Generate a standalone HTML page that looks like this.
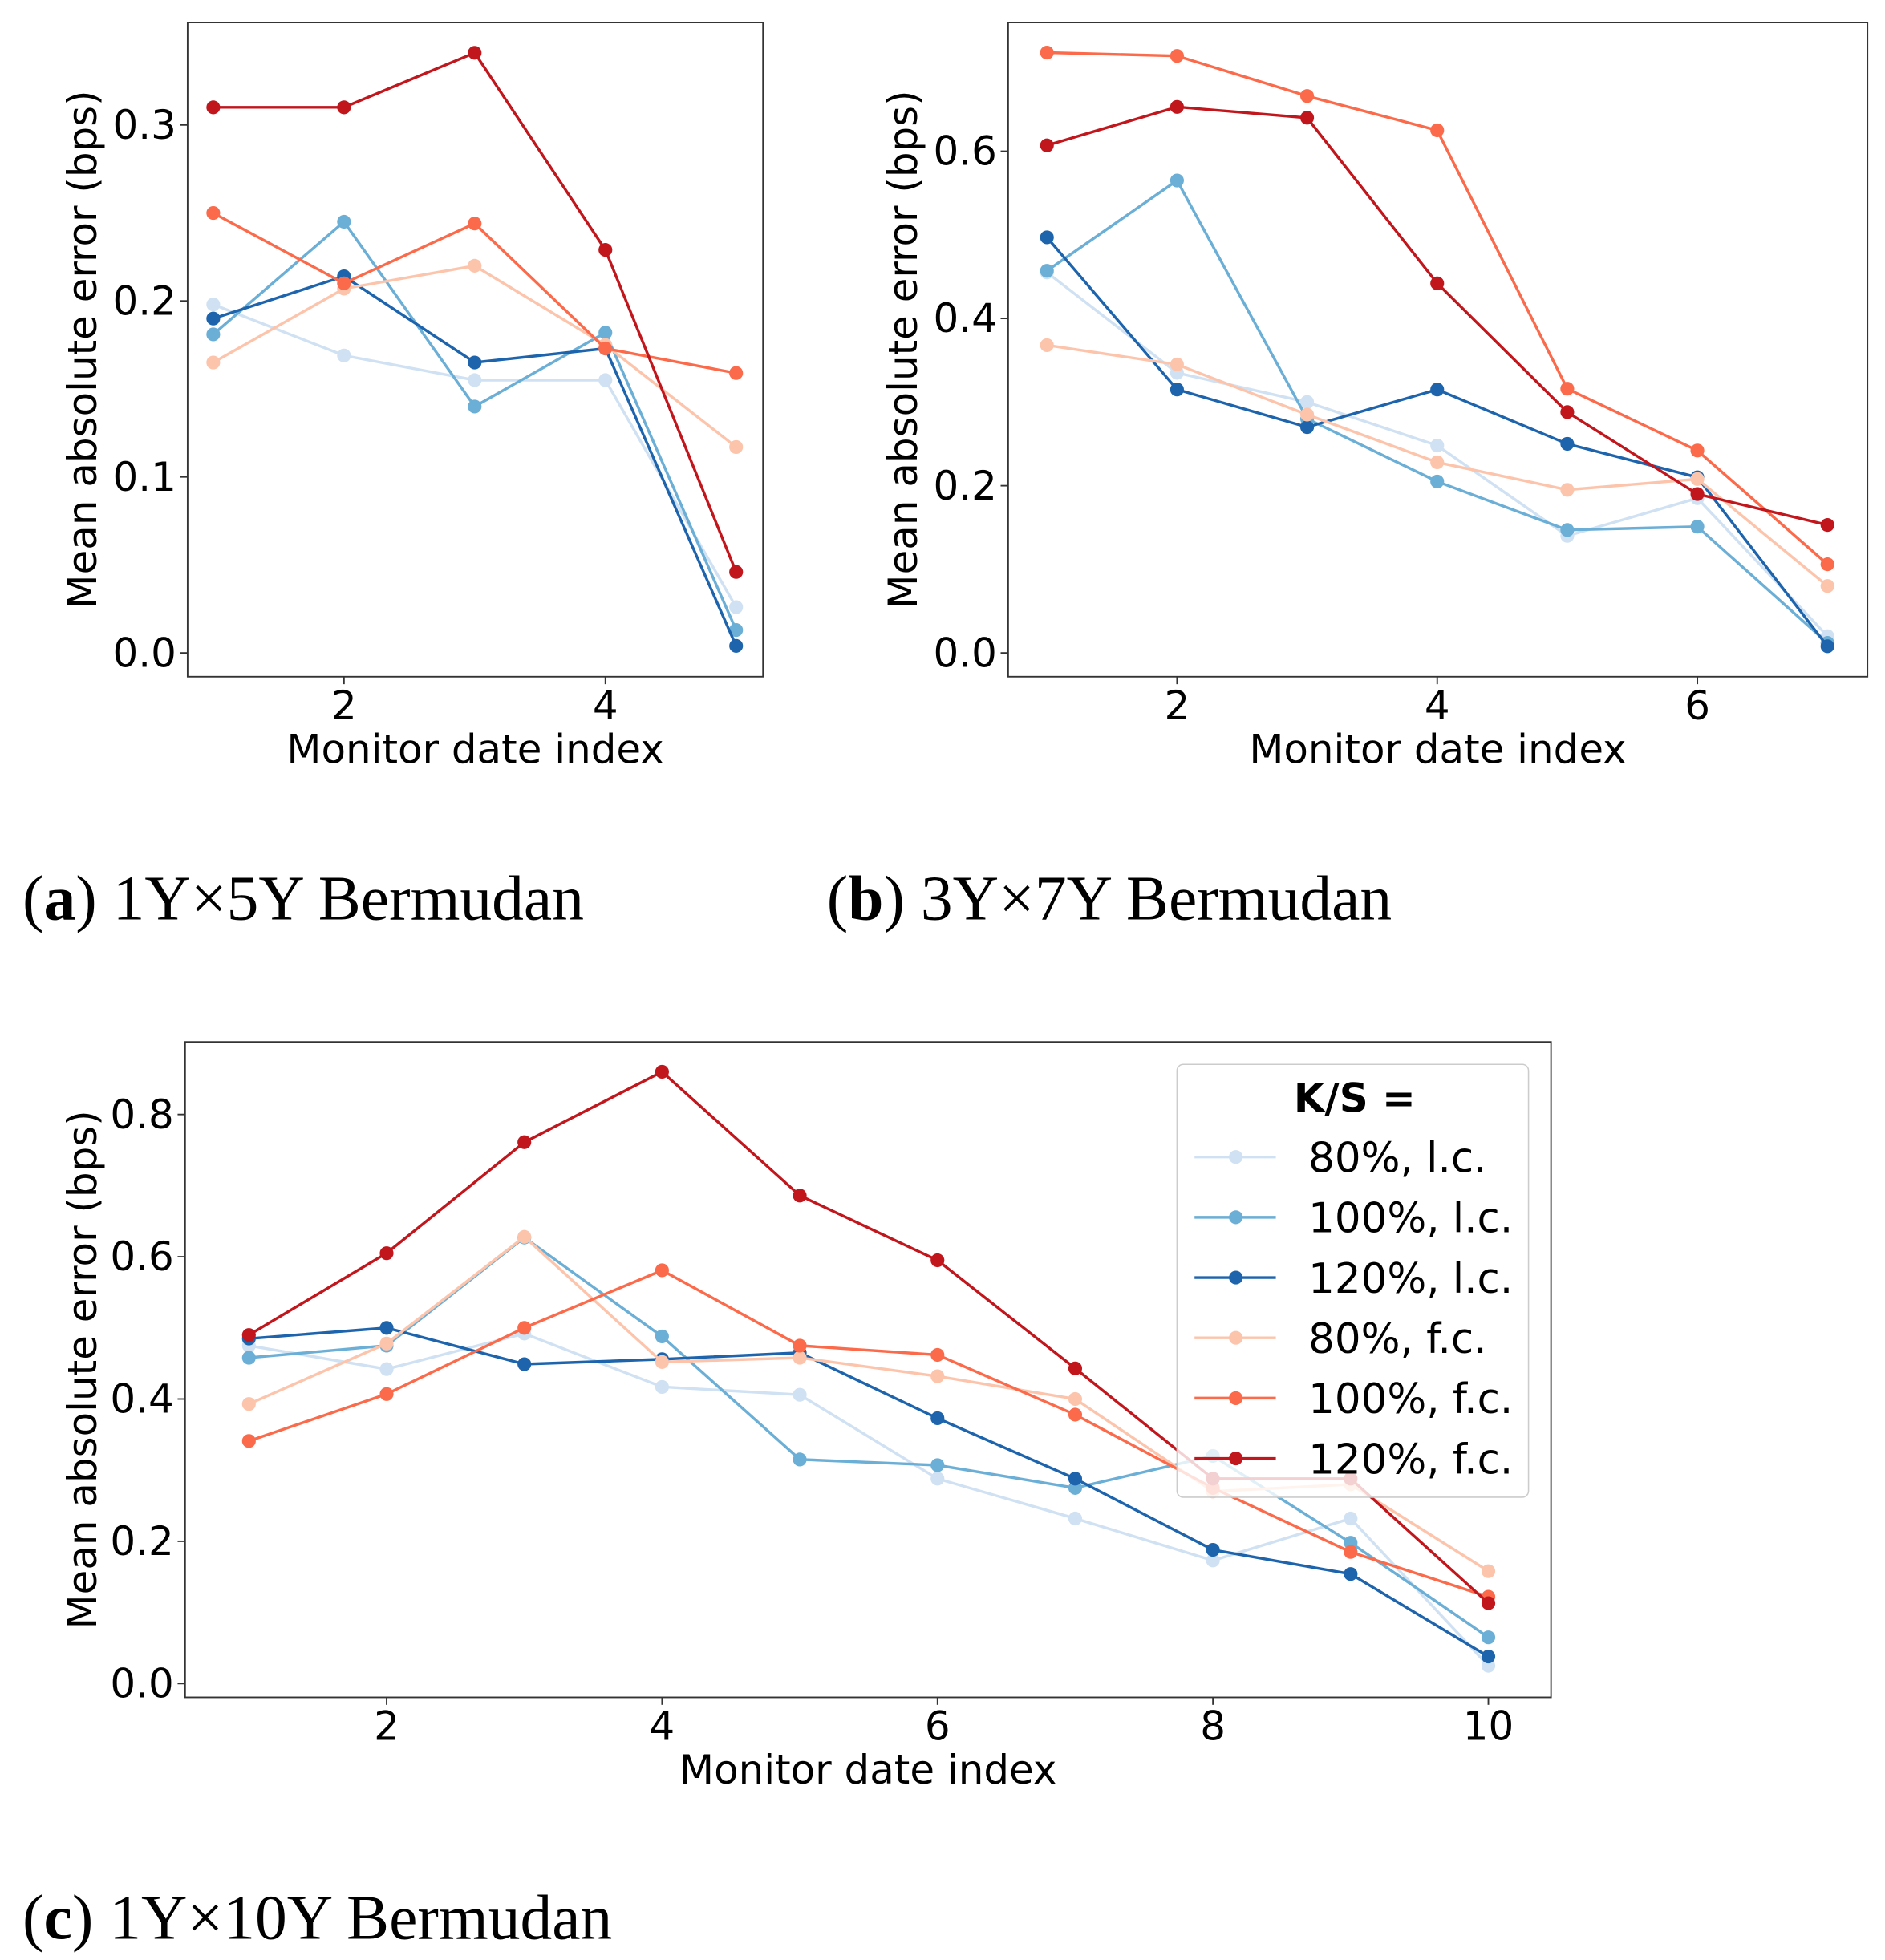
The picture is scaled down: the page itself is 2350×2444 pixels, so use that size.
<!DOCTYPE html>
<html><head><meta charset="utf-8"><style>
html,body{margin:0;padding:0;background:#fff;}
svg{display:block;}
text{font-family:"DejaVu Sans","Liberation Sans",sans-serif;fill:#000;}
.cap{font-family:"Liberation Serif",serif;font-size:51px;}
</style></head><body>
<svg id="fig" width="2350" height="2444" viewBox="0 0 1507 1567" preserveAspectRatio="none" xmlns="http://www.w3.org/2000/svg"></svg>
<script>
const seriesNames = ["80%, l.c.","100%, l.c.","120%, l.c.","80%, f.c.","100%, f.c.","120%, f.c."];
const seriesKeys = ["80-lc","100-lc","120-lc","80-fc","100-fc","120-fc"];
const colors = ["#cfe1f2","#6baed6","#1d64ad","#fdc4ac","#fb6a4a","#c1161c"];

const xA = [1,2,3,4,5];
const valsA = [
  [0.198,0.169,0.155,0.155,0.026],
  [0.181,0.245,0.140,0.182,0.013],
  [0.190,0.214,0.165,0.173,0.004],
  [0.165,0.207,0.220,0.175,0.117],
  [0.250,0.210,0.244,0.173,0.159],
  [0.310,0.310,0.341,0.229,0.046]
];
const xTicksA = [2,4];
const yTicksA = [0.0,0.1,0.2,0.3];
const yLabelsA = ["0.0","0.1","0.2","0.3"];

const xB = [1,2,3,4,5,6,7];
const valsB = [
  [0.455,0.335,0.300,0.248,0.140,0.185,0.020],
  [0.457,0.565,0.280,0.205,0.147,0.151,0.012],
  [0.497,0.315,0.270,0.315,0.250,0.210,0.008],
  [0.368,0.345,0.285,0.228,0.195,0.208,0.080],
  [0.718,0.714,0.666,0.625,0.316,0.242,0.106],
  [0.607,0.653,0.640,0.442,0.288,0.190,0.153]
];
const xTicksB = [2,4,6];
const yTicksB = [0.0,0.2,0.4,0.6];
const yLabelsB = ["0.0","0.2","0.4","0.6"];

const xC = [1,2,3,4,5,6,7,8,9,10];
const valsC = [
  [0.475,0.442,0.492,0.417,0.406,0.288,0.232,0.173,0.232,0.025],
  [0.458,0.475,0.627,0.488,0.315,0.307,0.275,0.320,0.198,0.065],
  [0.485,0.500,0.449,0.456,0.465,0.373,0.288,0.188,0.154,0.038],
  [0.393,0.478,0.628,0.452,0.458,0.432,0.400,0.270,0.280,0.158],
  [0.341,0.407,0.500,0.581,0.475,0.462,0.378,0.275,0.185,0.122],
  [0.490,0.605,0.761,0.860,0.686,0.595,0.443,0.288,0.288,0.113]
];
const xTicksC = [2,4,6,8,10];
const yTicksC = [0.0,0.2,0.4,0.6,0.8];
const yLabelsC = ["0.0","0.2","0.4","0.6","0.8"];

const NS = "http://www.w3.org/2000/svg";
const svg = document.getElementById('fig');
function mk(tag, attrs, parent, txt){
  const e = document.createElementNS(NS, tag);
  for (const k in attrs) e.setAttribute(k, attrs[k]);
  if (txt !== undefined) e.textContent = txt;
  (parent||svg).appendChild(e);
  return e;
}

function drawPanel(cfg){
  const g = mk('g', {});
  
  
  const sx = v => cfg.x0px + (v - cfg.x0v) * cfg.xs;
  const sy = v => cfg.y0px - v * cfg.ys;
  cfg.vals.forEach((arr, si) => {
    const sg = mk('g', {}, g);
    
    
    const pts = arr.map((v, i) => sx(cfg.xs_[i]).toFixed(1) + ',' + sy(v).toFixed(1)).join(' ');
    const pl = mk('polyline', {points: pts, fill: 'none', stroke: colors[si], 'stroke-width': 2.2}, sg);
    
    
    arr.forEach((v, i) => {
      const c = mk('circle', {cx: sx(cfg.xs_[i]), cy: sy(v), r: 5.5, fill: colors[si]}, sg);
      
      
    });
  });
  const fr = mk('rect', {x: cfg.fx, y: cfg.fy, width: cfg.fw, height: cfg.fh, fill: 'none', stroke: '#333', 'stroke-width': 1.2}, g);
  
  
  const bottom = cfg.fy + cfg.fh;
  cfg.xt.forEach(t => {
    mk('line', {x1: sx(t), x2: sx(t), y1: bottom, y2: bottom + 6, stroke: '#333', 'stroke-width': 1.2}, g);
    const tl = mk('text', {x: sx(t), y: bottom + 34, 'font-size': 32, 'text-anchor': 'middle'}, g, String(t));
    
    
  });
  cfg.yt.forEach((t, i) => {
    mk('line', {x1: cfg.fx - 6, x2: cfg.fx, y1: sy(t), y2: sy(t), stroke: '#333', 'stroke-width': 1.2}, g);
    const tl = mk('text', {x: cfg.fx - 9, y: sy(t) + 11, 'font-size': 32, 'text-anchor': 'end'}, g, cfg.yl[i]);
    
    
  });
  const xl = mk('text', {x: cfg.fx + cfg.fw / 2, y: bottom + 69, 'font-size': 32, 'text-anchor': 'middle'}, g, 'Monitor date index');
  
  
  const cy = cfg.fy + cfg.fh / 2;
  const yl = mk('text', {x: cfg.ylx, y: cy, 'font-size': 32, 'text-anchor': 'middle', transform: `rotate(-90 ${cfg.ylx} ${cy})`}, g, 'Mean absolute error (bps)');
  
  
  const cap = mk('text', {x: cfg.capx, y: cfg.capy, class: 'cap'}, svg);
  
  
  mk('tspan', {}, cap, '(');
  mk('tspan', {'font-weight': 'bold'}, cap, cfg.letter);
  mk('tspan', {}, cap, ') ' + cfg.caption);
  return g;
}

drawPanel({name:'panel-a', vals:valsA, xs_:xA, xt:xTicksA, yt:yTicksA, yl:yLabelsA,
  x0v:1, x0px:170.5, xs:104.5, y0px:522, ys:1407,
  fx:150, fy:18, fw:460, fh:523, ylx:77, capx:18, capy:735, letter:'a', caption:'1Y×5Y Bermudan'});
drawPanel({name:'panel-b', vals:valsB, xs_:xB, xt:xTicksB, yt:yTicksB, yl:yLabelsB,
  x0v:1, x0px:837, xs:104, y0px:522, ys:668.5,
  fx:806, fy:18, fw:687, fh:523, ylx:733, capx:661, capy:735, letter:'b', caption:'3Y×7Y Bermudan'});
const gc = drawPanel({name:'panel-c', vals:valsC, xs_:xC, xt:xTicksC, yt:yTicksC, yl:yLabelsC,
  x0v:1, x0px:199, xs:110.1, y0px:1346, ys:568.75,
  fx:148, fy:833, fw:1092, fh:524, ylx:77, capx:18, capy:1550, letter:'c', caption:'1Y×10Y Bermudan'});

const lg = mk('g', {}, gc);


mk('rect', {x: 941, y: 851, width: 281, height: 346, rx: 5, fill: '#fff', 'fill-opacity': 0.8, stroke: '#ccc', 'stroke-width': 1}, lg);
const lt = mk('text', {x: 1083, y: 889, 'font-size': 32, 'font-weight': 'bold', 'text-anchor': 'middle'}, lg, 'K/S =');


seriesNames.forEach((n, i) => {
  const y = 925 + i * 48.2;
  const e = mk('g', {}, lg);
  
  
  mk('line', {x1: 955, x2: 1020, y1: y, y2: y, stroke: colors[i], 'stroke-width': 2.2}, e);
  mk('circle', {cx: 988, cy: y, r: 5.5, fill: colors[i]}, e);
  mk('text', {x: 1046, y: y + 12, 'font-size': 33}, e, n);
});
</script>
</body></html>
